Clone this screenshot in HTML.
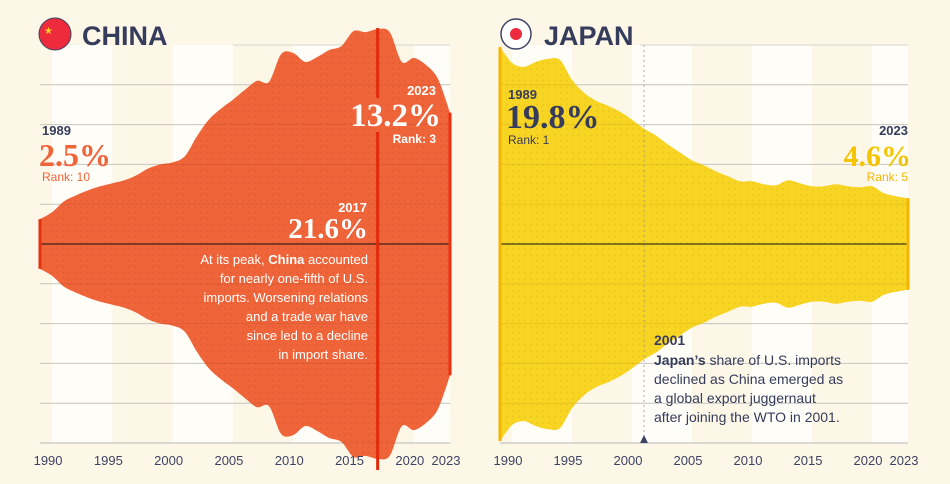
<!DOCTYPE html>
<html><head><meta charset="utf-8">
<style>
body{margin:0;width:950px;height:479px;background:#fdf7e8;overflow:hidden;font-family:"Liberation Sans",sans-serif}
svg text{font-family:"Liberation Sans",sans-serif}
.serif{font-family:"Liberation Serif",serif;font-weight:bold}
</style></head><body>
<svg id="chart" width="950" height="479" viewBox="0 0 950 479">
<defs>
<pattern id="dots" width="6" height="6" patternUnits="userSpaceOnUse"><circle cx="3" cy="3" r="0.7" fill="#000" opacity="0.1"/></pattern>
</defs>
<g id="bands"></g>
<g id="grid"></g>
<g id="areas"></g>
<g id="labels"></g>
</svg>
<script>
const years = [1989,1990,1991,1992,1993,1994,1995,1996,1997,1998,1999,2000,2001,2002,2003,2004,2005,2006,2007,2008,2009,2010,2011,2012,2013,2014,2015,2016,2017,2018,2019,2020,2021,2022,2023];
const chinaShare = [2.5,3.2,4.3,4.9,5.4,5.8,6.1,6.4,6.9,7.6,8.0,8.2,8.8,10.8,12.5,13.6,14.5,15.5,16.4,16.3,19.1,19.2,18.3,18.8,19.5,19.9,21.4,21.3,21.6,21.3,18.3,18.7,18.0,16.6,13.2];
const japanShare = [19.8,18.2,17.8,18.3,18.6,18.5,16.5,15.2,14.4,13.9,13.3,12.5,11.6,10.9,10.0,9.2,8.4,7.9,7.3,6.8,6.3,6.3,6.0,5.9,6.4,6.1,5.8,5.8,6.0,5.8,5.7,5.8,5.1,4.8,4.6];
const tickYears = [1990,1995,2000,2005,2010,2015,2020,2023];

const NS="http://www.w3.org/2000/svg";
const CY=244, PX=9.95;
function mk(tag,attrs,parent,text){const e=document.createElementNS(NS,tag);for(const k in attrs)e.setAttribute(k,attrs[k]);if(text!==undefined)e.textContent=text;parent.appendChild(e);return e;}
function smooth(pts,start){
 let d=start?'M'+pts[0][0].toFixed(1)+','+pts[0][1].toFixed(1):'L'+pts[0][0].toFixed(1)+','+pts[0][1].toFixed(1);
 for(let i=0;i<pts.length-1;i++){
  const p0=pts[Math.max(0,i-1)],p1=pts[i],p2=pts[i+1],p3=pts[Math.min(pts.length-1,i+2)];
  const t=0.16;
  const c1=[p1[0]+(p2[0]-p0[0])*t,p1[1]+(p2[1]-p0[1])*t];
  const c2=[p2[0]-(p3[0]-p1[0])*t,p2[1]-(p3[1]-p1[1])*t];
  d+='C'+c1[0].toFixed(1)+','+c1[1].toFixed(1)+' '+c2[0].toFixed(1)+','+c2[1].toFixed(1)+' '+p2[0].toFixed(1)+','+p2[1].toFixed(1);
 }
 return d;
}
const panels=[
 {name:'china',x0:40,x1:450,data:chinaShare,fill:'#f0643a',edge:'#e8300e',topStart:233},
 {name:'japan',x0:500,x1:908,data:japanShare,fill:'#f9d523',edge:'#f5b400',topStart:640}
];
const bands=document.getElementById('bands'),grid=document.getElementById('grid'),areas=document.getElementById('areas'),labels=document.getElementById('labels');
panels.forEach(p=>{
 const sx=y=>p.x0+(y-1989)*(p.x1-p.x0)/34;
 const sy=v=>v*PX;
 for(let y=1990;y<2023;y+=10){
  const b=mk('rect',{x:sx(y),y:45,width:Math.min(sx(y+5),p.x1)-sx(y),height:398,fill:'#fffdf7'},bands);
  
  
 }
 for(let i=0;i<11;i++){
  const yy=45+i*39.8;
  if(i===5)continue;
  const l=mk('line',{x1:i===0?p.topStart:p.x0,x2:p.x1,y1:yy,y2:yy,stroke:i===10?'#c9c9cc':'#d8d6d0','stroke-width':1},grid);
  
  
 }
 const top=years.map((y,i)=>[sx(y),CY-sy(p.data[i])]);
 const bot=years.map((y,i)=>[sx(y),CY+sy(p.data[i])]).reverse();
 const d=smooth(top,true)+smooth(bot,false)+'Z';
 const a=mk('path',{d:d,fill:p.fill},areas);
 
 
 const dots=mk('path',{d:d,fill:'url(#dots)'},areas);
 
 
 for(let i=1;i<11;i++){if(i===5)continue;const yy=45+i*39.8;const l=mk('line',{x1:p.x0,x2:p.x1,y1:yy,y2:yy,stroke:'#000','stroke-opacity':0.08},areas);
  
  }
 const c=mk('line',{x1:p.x0,x2:p.x1,y1:CY,y2:CY,stroke:'#111','stroke-width':1},areas);
 
 
 const v0=p.data[0],v1=p.data[p.data.length-1];
 const e1=mk('line',{x1:p.x0,x2:p.x0,y1:CY-sy(v0),y2:CY+sy(v0),stroke:p.edge,'stroke-width':3},areas);
 
 
 const e2=mk('line',{x1:p.x1,x2:p.x1,y1:CY-sy(v1),y2:CY+sy(v1),stroke:p.edge,'stroke-width':3},areas);
 
 
 tickYears.forEach(y=>{
  const t=mk('text',{x:sx(y)-4,y:465,'text-anchor':'middle','font-size':13,fill:'#3d4463'},labels,String(y));
  
  
 });
});
const cx=40+(2017-1989)*410/34;
const pk=mk('line',{x1:cx,x2:cx,y1:28,y2:470,stroke:'#e02a0a','stroke-width':3},areas);


const gap=mk('rect',{x:cx-3,y:98,width:6,height:34,fill:'#f0643a'},areas);


const jx=500+(2001-1989)*408/34;
const jl=mk('line',{x1:jx,x2:jx,y1:45,y2:438,stroke:'#999','stroke-dasharray':'2,3','stroke-width':0.8},areas);


const tri=mk('path',{d:`M${jx-4},443L${jx},435L${jx+4},443Z`,fill:'#3d4463'},areas);


</script>
<svg style="position:absolute;left:0;top:0" width="950" height="479">
<g>
<circle cx="55" cy="34" r="16" fill="#ee2b3d" stroke="#3d4463" stroke-width="1"/>
<text x="44" y="34" font-size="10" fill="#ffd21c">★</text>
<text x="82" y="45" font-size="27" font-weight="bold" fill="#353c5c">CHINA</text>
</g>
<g>
<circle cx="516" cy="34" r="15" fill="#fff" stroke="#3d4463" stroke-width="1.5"/>
<circle cx="516" cy="34" r="6" fill="#ee2b3d"/>
<text x="544" y="45" font-size="27" font-weight="bold" fill="#353c5c">JAPAN</text>
</g>
<g>
<text x="42" y="135" font-size="13" font-weight="bold" fill="#353c5c">1989</text>
<text x="39" y="166" font-size="32" class="serif" fill="#f0643a">2.5%</text>
<text x="42" y="181" font-size="12" fill="#f0643a">Rank: 10</text>
</g>
<g>
<text x="436" y="95" font-size="13" font-weight="bold" fill="#fff" text-anchor="end">2023</text>
<text x="441" y="126" font-size="33" class="serif" fill="#fff" text-anchor="end">13.2%</text>
<text x="436" y="143" font-size="12" font-weight="bold" fill="#fff" text-anchor="end">Rank: 3</text>
</g>
<g fill="#fff" text-anchor="end">
<text x="367" y="212" font-size="13" font-weight="bold">2017</text>
<text x="368" y="238" font-size="29" class="serif">21.6%</text>
<text x="368" y="264" font-size="13">At its peak, <tspan font-weight="bold">China</tspan> accounted</text>
<text x="368" y="283" font-size="13">for nearly one-fifth of U.S.</text>
<text x="368" y="302" font-size="13">imports. Worsening relations</text>
<text x="368" y="321" font-size="13">and a trade war have</text>
<text x="368" y="340" font-size="13">since led to a decline</text>
<text x="368" y="359" font-size="13">in import share.</text>
</g>
<g>
<text x="508" y="99" font-size="13" font-weight="bold" fill="#353c5c">1989</text>
<text x="506" y="128" font-size="34" class="serif" fill="#353c5c">19.8%</text>
<text x="508" y="144" font-size="12" fill="#353c5c">Rank: 1</text>
</g>
<g text-anchor="end">
<text x="908" y="135" font-size="13" font-weight="bold" fill="#353c5c">2023</text>
<text x="911" y="166" font-size="30" class="serif" fill="#f5c400">4.6%</text>
<text x="908" y="181" font-size="12" fill="#f5b400">Rank: 5</text>
</g>
<g fill="#353c5c" font-size="14">
<text x="654" y="345" font-weight="bold">2001</text>
<text x="654" y="365"><tspan font-weight="bold">Japan’s</tspan> share of U.S. imports</text>
<text x="654" y="384">declined as China emerged as</text>
<text x="654" y="403">a global export juggernaut</text>
<text x="654" y="422">after joining the WTO in 2001.</text>
</g>
</svg>
</body></html>
